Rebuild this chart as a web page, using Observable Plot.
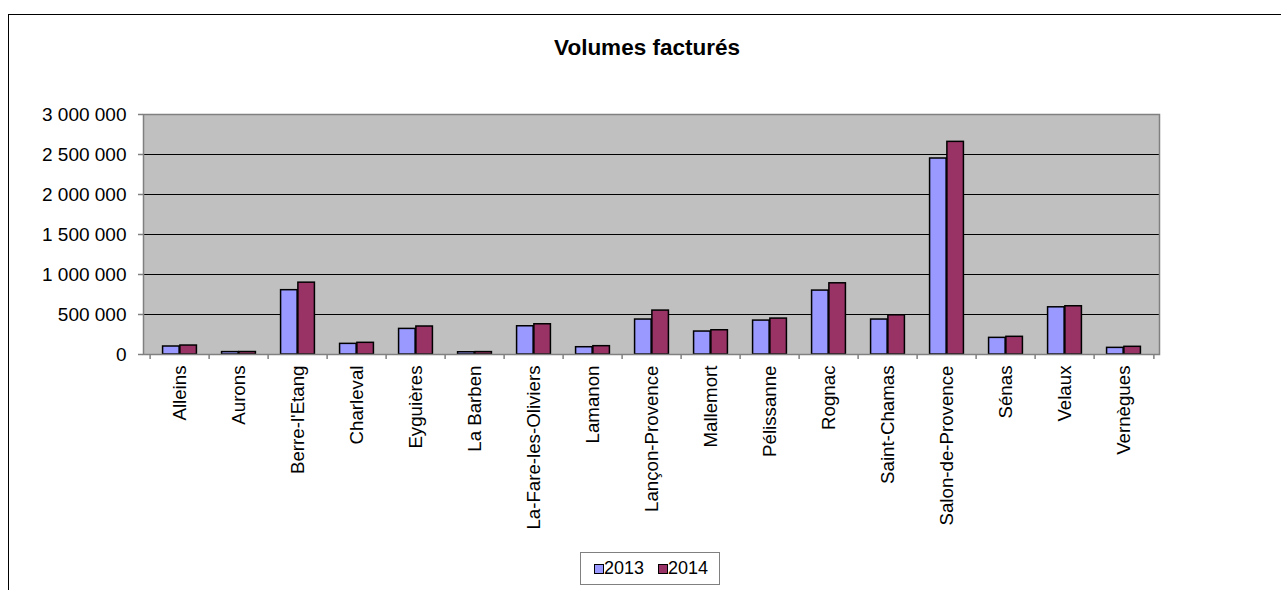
<!DOCTYPE html>
<html><head><meta charset="utf-8">
<script src="https://cdn.jsdelivr.net/npm/d3@7"></script>
<script src="https://cdn.jsdelivr.net/npm/@observablehq/plot@0.6"></script>
<style>
body{margin:0;background:#fff;font-family:"Liberation Sans",Arial,sans-serif;color:#000;}
#wrap{position:relative;width:1281px;height:590px;overflow:hidden;}
#border{position:absolute;left:8px;top:14px;right:-2px;bottom:-2px;border-top:1px solid #000;border-left:1px solid #000;pointer-events:none;}
#head{position:relative;height:100px;}
#title{position:absolute;left:0;width:1294px;top:35px;text-align:center;font-weight:bold;font-size:22.5px;line-height:26px;}
#chart{height:440px;}
#legend{margin-left:580px;margin-top:12px;width:138px;height:31px;border:1px solid #808080;display:flex;align-items:center;font-size:18px;box-sizing:content-box;}
.sw{width:8px;height:8px;border:1px solid #000;display:inline-block;}
.it{display:flex;align-items:center;}
</style></head>
<body><div id="wrap"><div id="border"></div>
<div id="head"><div id="title">Volumes facturés</div></div>
<div id="chart"></div>
<div id="legend"></div>
</div>
<script>
const towns = ["Alleins","Aurons","Berre-l'Etang","Charleval","Eyguières","La Barben","La-Fare-les-Oliviers","Lamanon","Lançon-Provence","Mallemort","Pélissanne","Rognac","Saint-Chamas","Salon-de-Provence","Sénas","Velaux","Vernègues"];
const v2013 = [100000, 30000, 804000, 133000, 320000, 28000, 353000, 91000, 437000, 287000, 424000, 799000, 437000, 2450000, 208000, 590000, 83000];
const v2014 = [112000, 31000, 898000, 146000, 350000, 30000, 378000, 104000, 549000, 303000, 449000, 890000, 490000, 2658000, 221000, 603000, 96000];
const series = ["2013", "2014"];
const seriesColors = ["#9999ff", "#993366"];
const yTicks = [0, 500000, 1000000, 1500000, 2000000, 2500000, 3000000];

const rows = towns.map((t, i) => ({town: t, v2013: v2013[i], v2014: v2014[i]}));
const fmt = d3.formatLocale({thousands: " ", grouping: [3], decimal: ",", currency: ["", ""]}).format(",d");

const W = 1281, mL = 143, mR = 122;
const bw = (W - mL - mR) / towns.length;
const barW = 17.3;
const gap = (bw - 2 * barW) / 2;

const barStyle = {stroke: "#000", strokeWidth: 1.5};
const chart = Plot.plot({
  width: W, height: 440,
  marginTop: 14, marginBottom: 186, marginLeft: mL, marginRight: mR,
  x: {domain: towns, padding: 0, label: null},
  y: {domain: [0, 3000000], label: null},
  style: {fontSize: "19px", fontFamily: "'Liberation Sans', Arial, sans-serif", color: "#000", background: "transparent", overflow: "visible"},
  marks: [
    Plot.frame({fill: "#c0c0c0"}),
    Plot.gridY(yTicks, {stroke: "#000", strokeOpacity: 1, strokeWidth: 1}),
    Plot.barY(rows, {x: "town", y: "v2013", fill: seriesColors[0], insetLeft: gap, insetRight: bw - gap - barW, ...barStyle}),
    Plot.barY(rows, {x: "town", y: "v2014", fill: seriesColors[1], insetLeft: gap + barW, insetRight: gap, ...barStyle}),
    Plot.frame({stroke: "#808080", strokeWidth: 1.5}),
    Plot.ruleX(towns, {x: d => d, dx: -bw / 2, y1: 0, y2: 0, insetBottom: -5, stroke: "#808080", strokeWidth: 1.5}),
    Plot.ruleX([towns[towns.length - 1]], {x: d => d, dx: bw / 2, y1: 0, y2: 0, insetBottom: -5, stroke: "#808080", strokeWidth: 1.5}),
    Plot.axisY(yTicks, {tickSize: 5, tickFormat: () => "", color: "#808080", strokeWidth: 1.5}),
    Plot.axisY(yTicks, {tickSize: 0, tickPadding: 17, tickFormat: fmt}),
    Plot.axisX({tickSize: 0, tickRotate: -90, tickPadding: 11, fontSize: 18.7})
  ]
});
document.getElementById("chart").appendChild(chart);

const lg = document.getElementById("legend");
series.forEach((s, i) => {
  const it = document.createElement("div");
  it.className = "it";
  it.style.marginLeft = i === 0 ? "13px" : "14px";
  const sw = document.createElement("span");
  sw.className = "sw";
  sw.style.background = seriesColors[i];
  const tx = document.createElement("span");
  tx.textContent = s;
  it.appendChild(sw); it.appendChild(tx);
  lg.appendChild(it);
});
</script>
</body></html>
